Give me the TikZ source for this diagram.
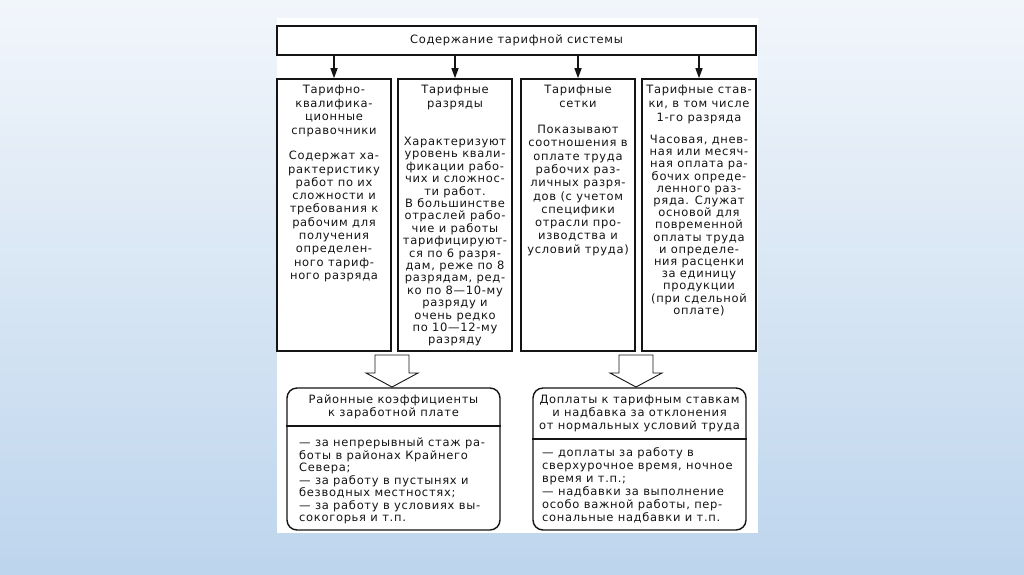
\documentclass[tikz,border=0pt]{standalone}
\usepackage{fontspec}
\setmainfont{DejaVu Sans}[LetterSpace=6]
\usetikzlibrary{arrows.meta, positioning, calc}

\definecolor{bgtop}{RGB}{242,246,251}
\definecolor{bgbottom}{RGB}{189,213,237}
\definecolor{ink}{RGB}{20,20,20}

\begin{document}
\begin{tikzpicture}[
    x=1pt, y=-1pt,
    font=\fontsize{11.5}{12.4}\selectfont,
    every node/.style={text=ink},
    box/.style={
        rectangle, draw=ink, line width=1.6pt,
        fill=white, inner sep=0pt
    },
    column/.style={
        box, minimum width=114pt, minimum height=272pt
    },
    roundbox/.style={
        box, rounded corners=10pt, line width=1.4pt,
        minimum width=213pt, minimum height=142pt
    },
    coltext/.style={anchor=north, align=center, inner sep=0pt},
    listtext/.style={anchor=north west, align=left, inner sep=0pt},
    link/.style={draw=ink, line width=1.4pt, -{Triangle[width=7pt,length=10pt]}},
    hollow/.style={draw=ink, line width=0.9pt, fill=white, line join=miter}
]

% background and sheet
\shade[top color=bgtop, bottom color=bgbottom] (0,0) rectangle (1024,574);
\fill[white] (277,18) rectangle (758,533);

% 1. TOP: heading box
\node[box, minimum width=479pt, minimum height=29pt] (Head) at (516.5,40.5) {Содержание тарифной системы};

% 2. MIDDLE: four columns
\node[column] (Col1) at (334,215) {};
\node[column] (Col2) at (455,215) {};
\node[column] (Col3) at (578,215) {};
\node[column] (Col4) at (699,215) {};

\foreach \c in {Col1,Col2,Col3,Col4}
    \draw[link] (Head.south -| \c.north) -- (\c.north);

% column titles
\node[coltext, font=\fontsize{11.5}{13.5}\selectfont] (T1) at (334,85) {Тарифно-\\квалифика-\\ционные\\справочники};
\node[coltext, font=\fontsize{11.5}{14}\selectfont] (T2) at (455,85) {Тарифные\\разряды};
\node[coltext, font=\fontsize{11.5}{14}\selectfont] (T3) at (578,85) {Тарифные\\сетки};
\node[coltext, font=\fontsize{11.5}{14}\selectfont] (T4) at (699,85) {Тарифные став-\\ки, в том числе\\1-го разряда};

% column descriptions
\node[coltext, font=\fontsize{11.5}{13.3}\selectfont] (B1) at (334,151) {Содержат ха-\\рактеристику\\работ по их\\сложности и\\требования к\\рабочим для\\получения\\определен-\\ного тариф-\\ного разряда};
\node[coltext, font=\fontsize{11.5}{12.4}\selectfont] (B2) at (455,137) {Характеризуют\\уровень квали-\\фикации рабо-\\чих и сложнос-\\ти работ.\\В большинстве\\отраслей рабо-\\чие и работы\\тарифицируют-\\ся по 6 разря-\\дам, реже по 8\\разрядам, ред-\\ко по 8—10-му\\разряду и\\очень редко\\по 10—12-му\\разряду};
\node[coltext, font=\fontsize{11.5}{13.3}\selectfont] (B3) at (578,125) {Показывают\\соотношения в\\оплате труда\\рабочих раз-\\личных разря-\\дов (с учетом\\специфики\\отрасли про-\\изводства и\\условий труда)};
\node[coltext, font=\fontsize{11.5}{12.2}\selectfont] (B4) at (699,135) {Часовая, днев-\\ная или месяч-\\ная оплата ра-\\бочих опреде-\\ленного раз-\\ряда. Служат\\основой для\\повременной\\оплаты труда\\и определе-\\ния расценки\\за единицу\\продукции\\(при сдельной\\оплате)};

% 3. BOTTOM: hollow arrows and rounded boxes
\draw[hollow] (392,355) -- ++(17,0) -- ++(0,18) -- ++(9,0) -- (392,387)
    -- ++(-26,-14) -- ++(9,0) -- ++(0,-18) -- cycle;
\draw[hollow] (636,355) -- ++(17,0) -- ++(0,18) -- ++(9,0) -- (636,387)
    -- ++(-26,-14) -- ++(9,0) -- ++(0,-18) -- cycle;

\node[roundbox] (Left) at (393.5,459) {};
\node[roundbox] (Right) at (639.5,459) {};
\draw[draw=ink, line width=1.4pt] (Left.west |- 0,426) -- (Left.east |- 0,426);
\draw[draw=ink, line width=1.4pt] (Right.west |- 0,439) -- (Right.east |- 0,439);

\node[coltext, font=\fontsize{11.5}{12.4}\selectfont] (LHead) at (393.5,395) {Районные коэффициенты\\к заработной плате};
\node[coltext, font=\fontsize{11.5}{12.8}\selectfont] (RHead) at (639.5,395) {Доплаты к тарифным ставкам\\и надбавка за отклонения\\от нормальных условий труда};

\node[listtext, font=\fontsize{11.5}{12.5}\selectfont] (LList) at (299,438) {— за непрерывный стаж ра-\\боты в районах Крайнего\\Севера;\\— за работу в пустынях и\\безводных местностях;\\— за работу в условиях вы-\\сокогорья и т.п.};
\node[listtext, font=\fontsize{11.5}{13}\selectfont] (RList) at (542,447) {— доплаты за работу в\\сверхурочное время, ночное\\время и т.п.;\\— надбавки за выполнение\\особо важной работы, пер-\\сональные надбавки и т.п.};

\end{tikzpicture}
\end{document}
